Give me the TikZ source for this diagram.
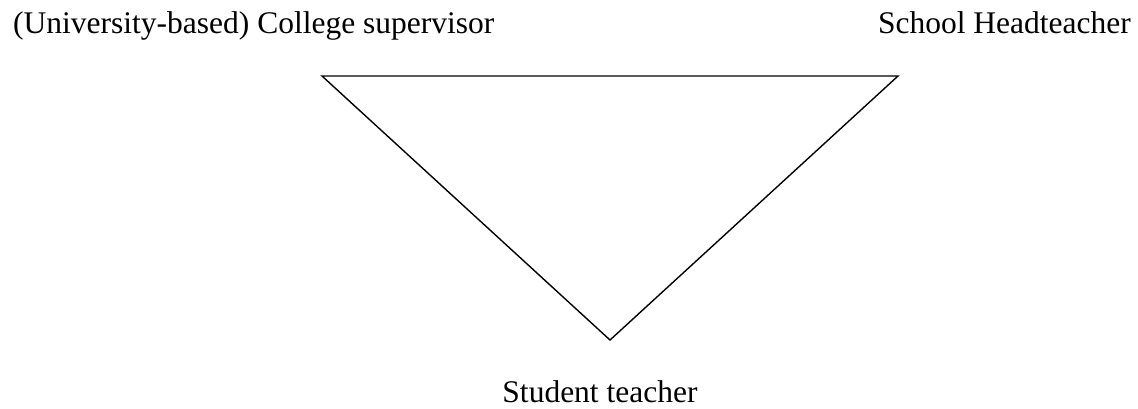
\documentclass[tikz,border=0pt]{standalone}
\usepackage{fontspec}
\setmainfont{Liberation Serif}
\tikzset{lbl/.style={inner sep=0pt, font=\fontsize{31.5}{36}\selectfont}}
\begin{document}
\begin{tikzpicture}[x=1pt,y=-1pt]
\useasboundingbox (0,0) rectangle (1138,408);
\node[lbl, anchor=base west] (college) at (13,33) {(University-based) College supervisor};
\node[lbl, anchor=base east] (head) at (1131,33) {School Headteacher};
\node[lbl, anchor=base] (student) at (600,402) {Student teacher};
\coordinate (tl) at (322,76);
\coordinate (tr) at (898,76);
\coordinate (bt) at (610,340);
\draw[line width=1.4pt, line join=miter] (tl) -- (tr) -- (bt) -- cycle;
\end{tikzpicture}
\end{document}
